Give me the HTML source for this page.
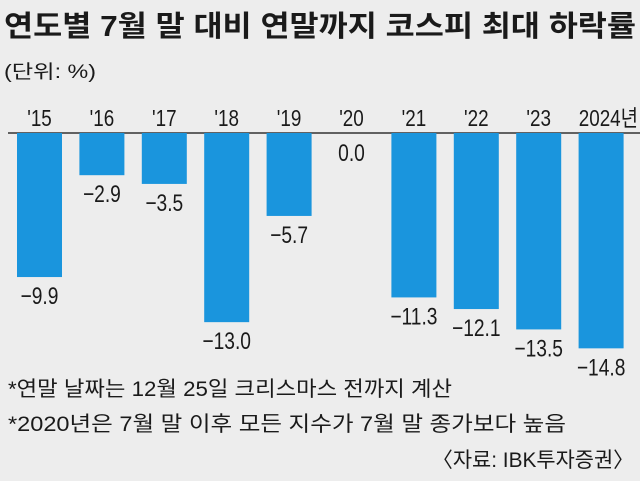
<!DOCTYPE html>
<html><head><meta charset="utf-8"><style>
body{margin:0;width:640px;height:481px;background:#ededed;overflow:hidden;font-family:"Liberation Sans","Noto Sans CJK KR",sans-serif;}
svg{display:block}
.k{font-family:"Liberation Sans","Noto Sans CJK KR",sans-serif;fill:#1a1a1a}
</style></head><body>
<svg width="640" height="481">
<text class="k" x="4" y="36" font-size="29" font-weight="bold" textLength="632" lengthAdjust="spacingAndGlyphs">연도별 7월 말 대비 연말까지 코스피 최대 하락률</text>
<text class="k" x="4" y="78" font-size="19" textLength="92" lengthAdjust="spacingAndGlyphs">(단위: %)</text>
<line x1="8" x2="640" y1="133" y2="133" stroke="#333" stroke-width="1.5"/>
<g id="bars"></g>
<text class="k" x="8" y="396" font-size="21" textLength="444" lengthAdjust="spacingAndGlyphs">*연말 날짜는 12월 25일 크리스마스 전까지 계산</text>
<text class="k" x="8" y="431" font-size="21" textLength="558" lengthAdjust="spacingAndGlyphs">*2020년은 7월 말 이후 모든 지수가 7월 말 종가보다 높음</text>
<text class="k" x="634" y="467" font-size="21" text-anchor="end" textLength="202" lengthAdjust="spacingAndGlyphs">〈자료: IBK투자증권〉</text>
</svg>
<script>
const categories=["'15","'16","'17","'18","'19","'20","'21","'22","'23","2024년"];
const values=[-9.9,-2.9,-3.5,-13.0,-5.7,0.0,-11.3,-12.1,-13.5,-14.8];
const labels=["−9.9","−2.9","−3.5","−13.0","−5.7","0.0","−11.3","−12.1","−13.5","−14.8"];
const NS="http://www.w3.org/2000/svg";
const g=document.getElementById('bars');
const y0=133,scale=14.55,x0=39.5,step=62.4,bw=45;
const xs=i=>x0+i*step;
const ys=v=>y0-v*scale;
categories.forEach((c,i)=>{
  const cx=xs(i),v=values[i];
  const top=Math.min(ys(0),ys(v)),h=Math.abs(ys(v)-ys(0));
  const r=document.createElementNS(NS,'rect');
  r.setAttribute('x',cx-bw/2);r.setAttribute('y',top);r.setAttribute('width',bw);r.setAttribute('height',h);r.setAttribute('fill','#1a95dd');
  
  
  g.appendChild(r);
  const t=document.createElementNS(NS,'text');
  const last=i===categories.length-1;
  t.setAttribute('x',last?638:cx);t.setAttribute('y',126);
  t.setAttribute('text-anchor',last?'end':'middle');
  t.setAttribute('font-size','23');t.setAttribute('class','k');
  t.setAttribute('transform',`translate(${last?638:cx},0) scale(0.82,1) translate(${-(last?638:cx)},0)`);
  t.textContent=c;
  
  
  g.appendChild(t);
  const l=document.createElementNS(NS,'text');
  const ly=ys(Math.min(v,0))+27;
  l.setAttribute('x',cx);l.setAttribute('y',v===0?161:ly);
  l.setAttribute('text-anchor','middle');l.setAttribute('font-size','24');l.setAttribute('class','k');
  l.setAttribute('transform',`translate(${cx},0) scale(0.8,1) translate(${-cx},0)`);
  l.textContent=labels[i];
  
  
  g.appendChild(l);
});
</script>
</body></html>
